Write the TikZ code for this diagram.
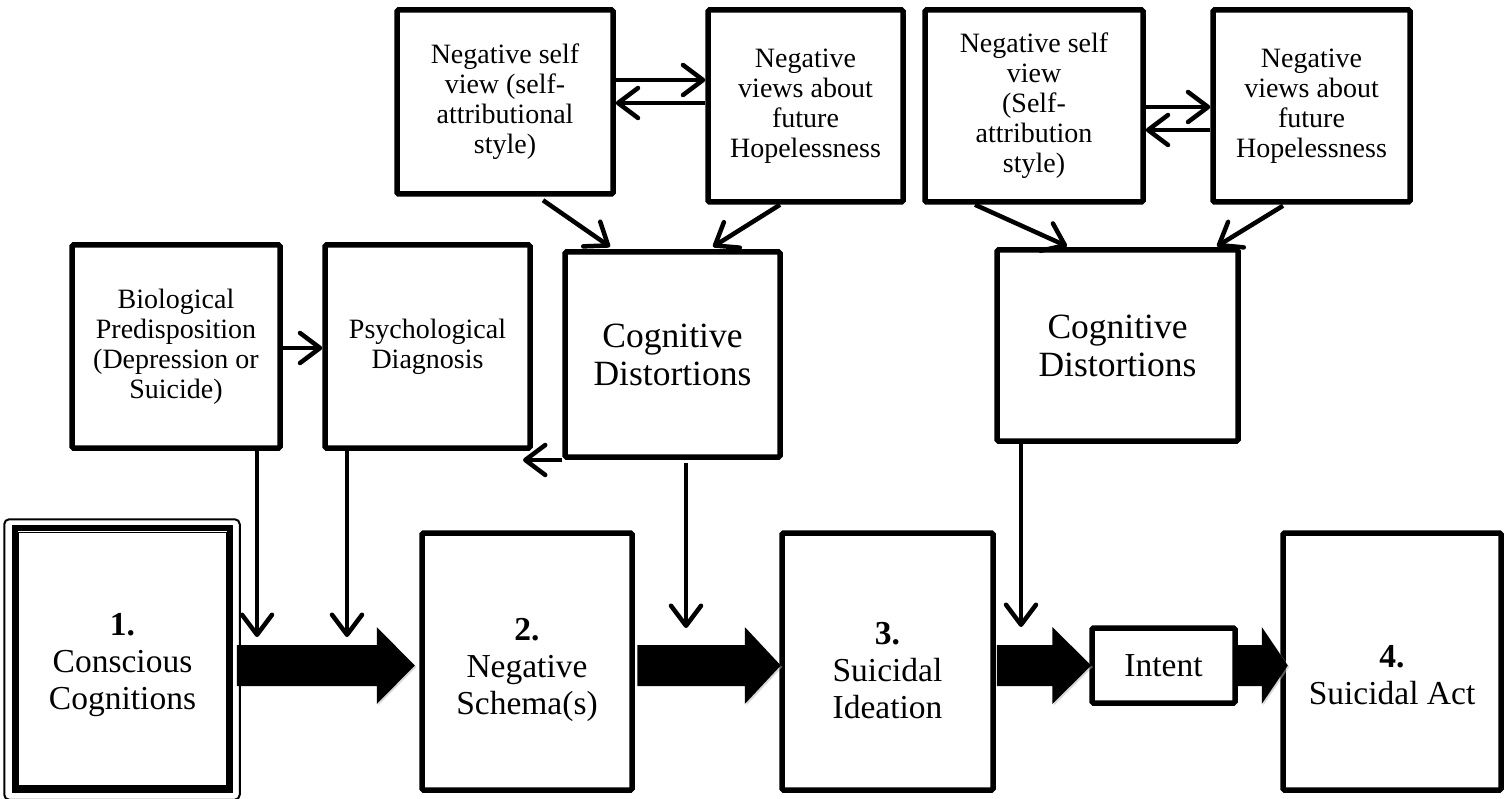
\documentclass[tikz,border=0pt]{standalone}
\usepackage{fontspec}
\setmainfont{Liberation Serif}
\usetikzlibrary{arrows.meta,calc}
\newcommand\blockarrow[3]{%
  \fill[black!30,opacity=.5] ([shift={(1.5pt,-1.5pt)}]#2) -- ([shift={(-#3+1.5pt,-40pt)}]#2) -- ([shift={(-#3+1.5pt,37pt)}]#2) -- cycle;
  \fill[black] ([yshift=20.5pt]#1) -- ([xshift=-#3,yshift=20.5pt]#2) -- ([xshift=-#3,yshift=38.5pt]#2) -- (#2) -- ([xshift=-#3,yshift=-38.5pt]#2) -- ([xshift=-#3,yshift=-20.5pt]#2) -- ([yshift=-20.5pt]#1) -- cycle;}
\newcommand\pushdown[1]{\rule{0pt}{#1}}
\tikzset{
  box/.style={draw, line width=5.5pt, rounded corners=1.5pt, align=center, inner sep=0pt, fill=white},
  smallf/.style={font=\fontsize{28}{30}\selectfont},
  cogf/.style={font=\fontsize{35.5}{38}\selectfont},
  mainf/.style={font=\fontsize{33.5}{37}\selectfont},
  con/.style={line width=4.5pt, -{Straight Barb[length=20pt,width=30pt,round]}}
}
\begin{document}
\begin{tikzpicture}[x=1pt,y=-1pt]
\useasboundingbox[fill=white] (0,0) rectangle (1509,799);
% top boxes
\node[box,smallf,minimum width=216pt,minimum height=184pt] (nsv1) at (505,102) {Negative self\\view (self-\\attributional\\style)};
\node[box,smallf,minimum width=195pt,minimum height=192pt] (nvf1) at (805.5,106) {Negative\\views about\\future\\Hopelessness};
\node[box,smallf,minimum width=218pt,minimum height=192pt] (nsv2) at (1034,106) {Negative self\\view\\(Self-\\attribution\\style)};
\node[box,smallf,minimum width=197pt,minimum height=192pt] (nvf2) at (1311.5,106) {Negative\\views about\\future\\Hopelessness};
% middle boxes
\node[box,smallf,minimum width=208pt,minimum height=203pt] (bio) at (176,346.5) {Biological\\Predisposition\\(Depression or\\Suicide)};
\node[box,smallf,minimum width=205pt,minimum height=203pt] (psy) at (427.5,346.5) {Psychological\\Diagnosis};
\node[box,cogf,minimum width=215pt,minimum height=205pt] (cd1) at (672.5,354.5) {Cognitive\\Distortions};
\node[box,cogf,minimum width=241pt,minimum height=191pt] (cd2) at (1117.5,345.5) {Cognitive\\Distortions};
% bottom boxes
\node[box,mainf,rounded corners=0pt,minimum width=215pt,minimum height=262pt] (cc) at (122.5,659) {\pushdown{34pt}\textbf{1.}\\Conscious\\Cognitions};
\draw[line width=2pt,rounded corners=5pt] ([shift={(-8pt,6pt)}]cc.north west) rectangle ([shift={(7pt,-7pt)}]cc.south east);
\draw[line width=1.5pt] ([shift={(6pt,-7pt)}]cc.north west) rectangle ([shift={(-6pt,7pt)}]cc.south east);
\node[box,mainf,minimum width=210pt,minimum height=257pt] (sch) at (527,661.5) {\pushdown{40pt}\textbf{2.}\\Negative\\Schema(s)};
\node[box,mainf,minimum width=211pt,minimum height=257pt] (ide) at (887.5,661.5) {\pushdown{40pt}\textbf{3.}\\Suicidal\\Ideation};
\node[box,mainf,minimum width=143pt,minimum height=75pt] (int) at (1163.5,665.5) {Intent};
\node[box,mainf,minimum width=218pt,minimum height=257pt] (act) at (1392,661.5) {\pushdown{50pt}\textbf{4.}\\Suicidal Act};
% top horizontal arrows
\draw[con] (nsv1.east |- 0,80) -- (nvf1.west |- 0,80);
\draw[con] (nvf1.west |- 0,103) -- (nsv1.east |- 0,103);
\draw[con] (nsv2.east |- 0,107) -- (nvf2.west |- 0,107);
\draw[con] (nvf2.west |- 0,130) -- (nsv2.east |- 0,130);
% diagonals
\draw[con] ([shift={(38pt,-3.5pt)}]nsv1.south) -- ([shift={(-62.5pt,2.5pt)}]cd1.north);
\draw[con] ([shift={(-25.5pt,0pt)}]nvf1.south) -- ([shift={(40.5pt,2.5pt)}]cd1.north);
\draw[con] ([shift={(-59pt,0pt)}]nsv2.south) -- ([shift={(-50.5pt,1pt)}]cd2.north);
\draw[con] ([shift={(-28.5pt,-1pt)}]nvf2.south) -- ([shift={(99.5pt,1pt)}]cd2.north);
% bio -> psy
\draw[con] (bio.east |- 0,348) -- (psy.west |- 0,348);
% cd1 -> left
\coordinate (cdl) at (523,460);
\draw[con] (cd1.south west |- cdl) -- (cdl);
% down arrows
\coordinate (b1) at (257,637);
\coordinate (b2) at (347,637);
\coordinate (c1) at (686,628);
\coordinate (c2) at (1021,627);
\draw[con] (bio.south -| b1) -- (b1);
\draw[con] (psy.south -| b2) -- (b2);
\draw[con] ([yshift=-3pt]cd1.south -| c1) -- (c1);
\draw[con] (cd2.south -| c2) -- (c2);
% block arrows
\coordinate (lvl) at (0,665.5);
\coordinate (a1s) at ([xshift=4pt]cc.east |- lvl);
\coordinate (a1t) at ([xshift=-4.5pt]sch.west |- lvl);
\coordinate (a2s) at ([xshift=2.5pt]sch.east |- lvl);
\coordinate (a2t) at ([xshift=1.5pt]ide.west |- lvl);
\coordinate (a3s) at ([xshift=1pt]ide.east |- lvl);
\coordinate (a3t) at ([xshift=2pt]int.west |- lvl);
\coordinate (a4s) at ([xshift=0pt]int.east |- lvl);
\coordinate (a4t) at ([xshift=7.5pt]act.west |- lvl);
\blockarrow{a1s}{a1t}{38pt}
\blockarrow{a2s}{a2t}{36pt}
\blockarrow{a3s}{a3t}{39pt}
\blockarrow{a4s}{a4t}{26pt}
\end{tikzpicture}
\end{document}
